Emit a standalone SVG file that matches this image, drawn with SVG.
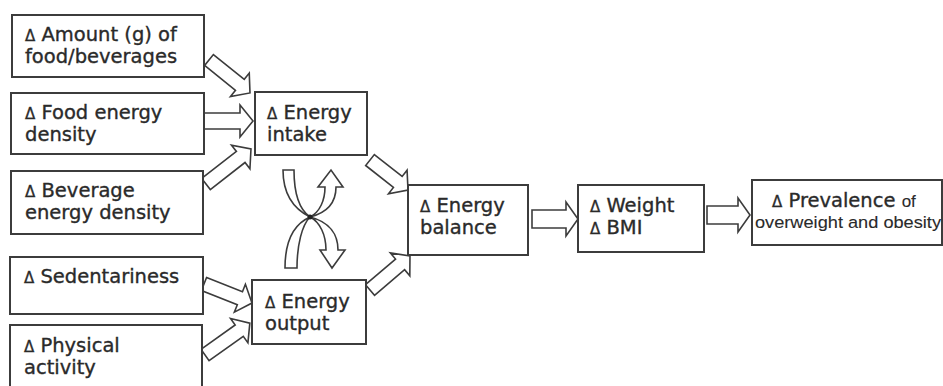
<svg xmlns="http://www.w3.org/2000/svg" width="943" height="386" viewBox="0 0 943 386">
<style>
.box{fill:#fff;stroke:#3c3c3c;stroke-width:2}
.t{font-family:"DejaVu Sans",Verdana,sans-serif;font-size:19.5px;fill:#2a2a2a;stroke:#2a2a2a;stroke-width:0.35}
.d{font-size:15px}
.s{font-family:"Liberation Sans",Arial,sans-serif;font-size:17px;stroke-width:0.1}
.ba{fill:#fff;stroke:#3c3c3c;stroke-width:1.6;stroke-linejoin:miter}
</style>
<rect width="943" height="386" fill="#fff"/>
<g id="connectors">
<path class="ba" transform="translate(209,60) rotate(38.8)" d="M0,-7 H39.6 V-15 L52.6,0 L39.6,15 V7 H0 Z"/>
<path class="ba" transform="translate(204,121)" d="M0,-8 H36 V-16 L49,0 L36,16 V8 H0 Z"/>
<path class="ba" transform="translate(206,184) rotate(-37.9)" d="M0,-7 H44 V-15 L57,0 L44,15 V7 H0 Z"/>
<path class="ba" transform="translate(204,284) rotate(21.6)" d="M0,-7 H38.6 V-15 L51.6,0 L38.6,15 V7 H0 Z"/>
<path class="ba" transform="translate(205,355) rotate(-35.4)" d="M0,-7 H42 V-15 L55,0 L42,15 V7 H0 Z"/>
<path class="ba" transform="translate(370,160) rotate(38.3)" d="M0,-7 H35.4 V-15 L48.4,0 L35.4,15 V7 H0 Z"/>
<path class="ba" transform="translate(370,290) rotate(-40.4)" d="M0,-7 H39.5 V-15 L52.5,0 L39.5,15 V7 H0 Z"/>
<path class="ba" transform="translate(532,219)" d="M0,-9 H34 V-17 L46,0 L34,17 V9 H0 Z"/>
<path class="ba" transform="translate(707,215)" d="M0,-9 H31 V-17 L43,0 L31,17 V9 H0 Z"/>
<path class="ba" d="M283,170 L294,170 C294,195 300,210 310,217 C330,222 338,235 338,250 L345,250 L332,268 L320,250 L326,250 C326,235 320,222 310,217 C290,207 283,190 283,170 Z"/>
<path class="ba" d="M285,268 L297,268 C297,245 302,225 310,217 C330,212 336,200 336,187 L343,187 L331,170 L318,187 L325,187 C325,200 320,212 310,217 C292,225 285,245 285,268 Z"/>
<circle cx="310" cy="217" r="2.5" fill="#222"/>
</g>
<g id="amount">
<rect class="box" x="12" y="15" width="192" height="62"/>
<text class="t" x="25" y="41"><tspan class="d">Δ</tspan> Amount (g) of</text>
<text class="t" x="25" y="63">food/beverages</text>
</g>
<g id="food-density">
<rect class="box" x="11" y="93" width="193" height="61"/>
<text class="t" x="25" y="119"><tspan class="d">Δ</tspan> Food energy</text>
<text class="t" x="25" y="141">density</text>
</g>
<g id="beverage-density">
<rect class="box" x="11" y="171" width="192" height="63"/>
<text class="t" x="25" y="197"><tspan class="d">Δ</tspan> Beverage</text>
<text class="t" x="25" y="219">energy density</text>
</g>
<g id="sedentariness">
<rect class="box" x="10" y="257" width="193" height="57"/>
<text class="t" x="24" y="283"><tspan class="d">Δ</tspan> Sedentariness</text>
</g>
<g id="physical">
<rect class="box" x="10" y="325" width="192" height="70"/>
<text class="t" x="24" y="352"><tspan class="d">Δ</tspan> Physical</text>
<text class="t" x="24" y="374">activity</text>
</g>
<g id="intake">
<rect class="box" x="255" y="92" width="112" height="63"/>
<text class="t" x="267" y="119"><tspan class="d">Δ</tspan> Energy</text>
<text class="t" x="267" y="141">intake</text>
</g>
<g id="output">
<rect class="box" x="252" y="280" width="114" height="64"/>
<text class="t" x="265" y="308"><tspan class="d">Δ</tspan> Energy</text>
<text class="t" x="265" y="330">output</text>
</g>
<g id="balance">
<rect class="box" x="408" y="185" width="120" height="70"/>
<text class="t" x="420" y="212"><tspan class="d">Δ</tspan> Energy</text>
<text class="t" x="420" y="234">balance</text>
</g>
<g id="weight">
<rect class="box" x="578" y="185" width="126" height="67"/>
<text class="t" x="590" y="212"><tspan class="d">Δ</tspan> Weight</text>
<text class="t" x="590" y="234"><tspan class="d">Δ</tspan> BMI</text>
</g>
<g id="prevalence">
<rect class="box" x="752" y="180" width="190" height="65"/>
<text class="t" x="772" y="207"><tspan class="d">Δ</tspan> Prevalence <tspan class="s">of</tspan></text>
<text class="t s" x="755" y="228" textLength="186" lengthAdjust="spacingAndGlyphs">overweight and obesity</text>
</g>
</svg>
